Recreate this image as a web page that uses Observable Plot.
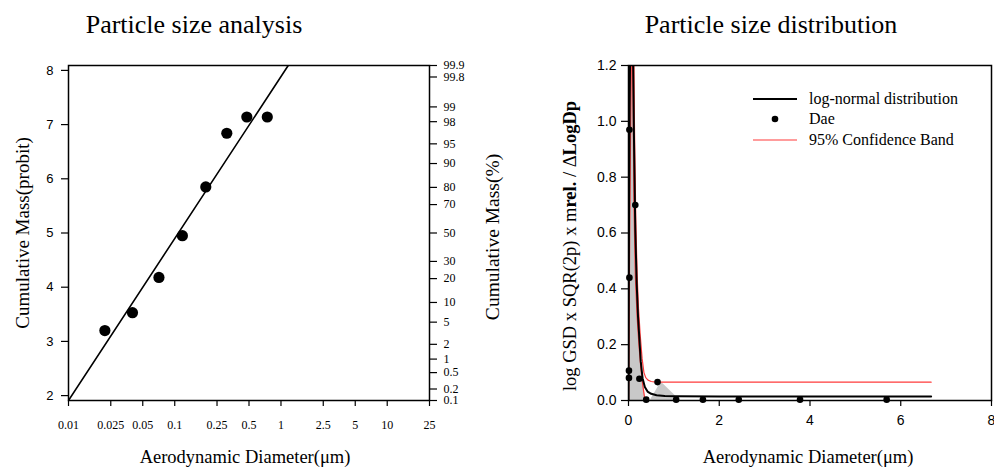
<!DOCTYPE html>
<html><head><meta charset="utf-8">
<script src="https://cdn.jsdelivr.net/npm/d3@7"></script>
<script src="https://cdn.jsdelivr.net/npm/@observablehq/plot@0.6"></script>
<style>
body{margin:0;background:#fff;}
#wrap{position:relative;width:994px;height:472px;overflow:hidden;background:#fff;}
#left,#right{position:absolute;top:0;}
#left{left:0px;} #right{left:500px;}
.leg{position:absolute;display:flex;align-items:center;font-family:"Liberation Serif",serif;font-size:16px;height:20px;white-space:nowrap;color:#000;}
.leg svg{flex:none;}
.leg span{margin-left:12px;}
</style></head><body>
<div id="wrap"><div id="left"></div><div id="right"></div>
<div class="leg" style="left:753px;top:89px"><svg width="44" height="20"><line x1="0" x2="44" y1="10" y2="10" stroke="#000" stroke-width="2"/></svg><span>log-normal distribution</span></div>
<div class="leg" style="left:753px;top:109px"><svg width="44" height="20"><circle cx="22" cy="10" r="3.3" fill="#000"/></svg><span>Dae</span></div>
<div class="leg" style="left:753px;top:130px"><svg width="44" height="20"><line x1="0" x2="44" y1="10" y2="10" stroke="#ff3b3b" stroke-width="1.2"/></svg><span>95% Confidence Band</span></div>
</div>
<script>
// ---- Left chart: Particle size analysis ----
const sizeDiam = [0.022, 0.040, 0.071, 0.118, 0.196, 0.309, 0.477, 0.743];
const sizeProbit = [3.20, 3.53, 4.18, 4.95, 5.85, 6.84, 7.14, 7.14];
const fitDiam = [0.01, 1.17];
const fitProbit = [1.91, 8.09];
const xTickValues = [0.01, 0.025, 0.05, 0.1, 0.25, 0.5, 1, 2.5, 5, 10, 25];
const xTickLabels = ["0.01", "0.025", "0.05", "0.1", "0.25", "0.5", "1", "2.5", "5", "10", "25"];
const probitTicks = [2, 3, 4, 5, 6, 7, 8];
const pctTicks = [0.1, 0.2, 0.5, 1, 2, 5, 10, 20, 30, 50, 70, 80, 90, 95, 98, 99, 99.8, 99.9];
const pctLabels = ["0.1", "0.2", "0.5", "1", "2", "5", "10", "20", "30", "50", "70", "80", "90", "95", "98", "99", "99.8", "99.9"];

// ---- Right chart: Particle size distribution ----
const daeX = [0.02, 0.15, 0.02, 0.01, 0.01, 0.24, 0.64, 0.39, 1.05, 1.64, 2.43, 3.78, 5.69];
const daeY = [0.97, 0.70, 0.44, 0.107, 0.081, 0.078, 0.066, 0.003, 0.003, 0.003, 0.003, 0.003, 0.003];
const logNormX = [0, 0.004, 0.012, 0.025, 0.04, 0.06, 0.08, 0.1, 0.12, 0.15, 0.18, 0.21, 0.24, 0.27, 0.31, 0.36, 0.42, 0.5, 0.62, 0.8, 1.1, 2, 4, 6.67];
const logNormY = [0, 0.3, 0.7, 1.05, 1.3, 1.45, 1.42, 1.25, 0.95, 0.61, 0.42, 0.3, 0.22, 0.14, 0.08, 0.048, 0.032, 0.024, 0.019, 0.016, 0.015, 0.0145, 0.0143, 0.0142];
const bandUpperX = [0, 0.005, 0.015, 0.03, 0.05, 0.08, 0.11, 0.13, 0.16, 0.19, 0.22, 0.26, 0.3, 0.34, 0.38, 0.43, 0.5, 0.6, 0.75, 6.67];
const bandUpperY = [0, 0.35, 0.8, 1.15, 1.45, 1.6, 1.4, 1.0, 0.65, 0.45, 0.33, 0.23, 0.15, 0.1, 0.082, 0.073, 0.068, 0.066, 0.0656, 0.0656];
const bandLowerX = [0, 0.01, 0.025, 0.045, 0.065, 0.085, 0.1, 0.12, 0.15, 0.19, 0.23, 0.27, 0.31, 0.35, 0.38, 0.42];
const bandLowerY = [0, 0.2, 0.55, 0.95, 1.25, 1.3, 1.1, 0.7, 0.45, 0.3, 0.2, 0.12, 0.06, 0.015, -0.01, -0.04];
const shadeX = [0, 0.003, 0.1, 0.17, 0.21, 0.25, 0.29, 0.33, 0.38, 0.48, 0.72, 1.14];
const shadeY = [0, 1.3, 1.3, 0.7, 0.45, 0.27, 0.14, 0.06, 0, 0, 0.066, 0];
const distXTicks = [0, 2, 4, 6, 8];
const distYTicks = [0, 0.2, 0.4, 0.6, 0.8, 1.0, 1.2];

// inverse standard normal (Acklam), returns probit = 5 + z for a percentage
function probit(pct) {
  const q = pct / 100;
  const a = [-3.969683028665376e+01, 2.209460984245205e+02, -2.759285104469687e+02, 1.383577518672690e+02, -3.066479806614716e+01, 2.506628277459239e+00];
  const b = [-5.447609879822406e+01, 1.615858368580409e+02, -1.556989798598866e+02, 6.680131188771972e+01, -1.328068155288572e+01];
  const c = [-7.784894002430293e-03, -3.223964580411365e-01, -2.400758277161838e+00, -2.549732539343734e+00, 4.374664141464968e+00, 2.938163982698783e+00];
  const d = [7.784695709041462e-03, 3.224671290700398e-01, 2.445134137142996e+00, 3.754408661907416e+00];
  const pl = 0.02425, ph = 1 - pl;
  let z;
  if (q < pl) {
    const t = Math.sqrt(-2 * Math.log(q));
    z = (((((c[0]*t+c[1])*t+c[2])*t+c[3])*t+c[4])*t+c[5]) / ((((d[0]*t+d[1])*t+d[2])*t+d[3])*t+1);
  } else if (q <= ph) {
    const t = q - 0.5, r = t * t;
    z = (((((a[0]*r+a[1])*r+a[2])*r+a[3])*r+a[4])*r+a[5])*t / (((((b[0]*r+b[1])*r+b[2])*r+b[3])*r+b[4])*r+1);
  } else {
    const t = Math.sqrt(-2 * Math.log(1 - q));
    z = -(((((c[0]*t+c[1])*t+c[2])*t+c[3])*t+c[4])*t+c[5]) / ((((d[0]*t+d[1])*t+d[2])*t+d[3])*t+1);
  }
  return 5 + z;
}

const pctPos = pctTicks.map(probit);
const pctLabelMap = new Map(pctPos.map((v, i) => [v, pctLabels[i]]));
const xLabelMap = new Map(xTickValues.map((v, i) => [v, xTickLabels[i]]));
const sizePoints = sizeDiam.map((d, i) => ({x: d, y: sizeProbit[i]}));
const fitPoints = fitDiam.map((d, i) => ({x: d, y: fitProbit[i]}));

const SERIF = "Liberation Serif, Times New Roman, serif";
const SANS = "Liberation Sans, Arial, sans-serif";

const left = Plot.plot({
  width: 500, height: 472,
  marginLeft: 68, marginRight: 71, marginTop: 65, marginBottom: 72,
  style: {fontFamily: SERIF, background: "transparent", overflow: "visible", color: "#000"},
  x: {type: "log", domain: [0.01, 25], label: null},
  y: {domain: [probit(0.1), probit(99.9)], label: null},
  marks: [
    Plot.line(fitPoints, {x: "x", y: "y", stroke: "#000", strokeWidth: 1.6, clip: true}),
    Plot.dot(sizePoints, {x: "x", y: "y", r: 5.6, fill: "#000", stroke: "none"}),
    Plot.frame({stroke: "#000", strokeWidth: 1.5}),
    Plot.axisY(probitTicks, {anchor: "left", tickSize: 7, tickPadding: 8, strokeWidth: 1.2, tickFormat: d => String(d), fontFamily: SANS, fontSize: 13, label: null}),
    Plot.axisY(pctPos, {anchor: "right", tickSize: 7, tickPadding: 7, strokeWidth: 1.2, tickFormat: d => pctLabelMap.get(d), fontFamily: SERIF, fontSize: 12, label: null}),
    Plot.axisX(xTickValues, {anchor: "bottom", tickSize: 6, tickPadding: 10, strokeWidth: 1.2, tickFormat: () => "", label: null}),
    Plot.text(xTickValues, {x: d => d, text: d => xLabelMap.get(d), frameAnchor: "bottom", lineAnchor: "middle", textAnchor: "middle", dy: 25, fontSize: 12, fontFamily: SERIF}),
    Plot.text(["Particle size analysis"], {frameAnchor: "top", lineAnchor: "middle", textAnchor: "middle", dx: -55, dy: -41, fontSize: 26, fontFamily: SERIF}),
    Plot.text(["Cumulative Mass(probit)"], {frameAnchor: "left", lineAnchor: "middle", textAnchor: "middle", dx: -46, rotate: -90, fontSize: 19, fontFamily: SERIF}),
    Plot.text(["Cumulative Mass(%)"], {frameAnchor: "right", lineAnchor: "middle", textAnchor: "middle", dx: 63, dy: 4, rotate: -90, fontSize: 19.5, fontFamily: SERIF}),
    Plot.text(["Aerodynamic Diameter(μm)"], {frameAnchor: "bottom", lineAnchor: "middle", textAnchor: "middle", dx: -4, dy: 57, fontSize: 18.5, fontFamily: SERIF})
  ]
});
document.getElementById("left").appendChild(left);

const daePoints = daeX.map((d, i) => ({x: d, y: daeY[i]}));
const logNormPoints = logNormX.map((d, i) => ({x: d, y: logNormY[i]}));
const upperPoints = bandUpperX.map((d, i) => ({x: d, y: bandUpperY[i]}));
const lowerPoints = bandLowerX.map((d, i) => ({x: d, y: bandLowerY[i]}));
const shadePoints = shadeX.map((d, i) => ({x: d, y: shadeY[i]}));

const right = Plot.plot({
  width: 494, height: 472,
  marginLeft: 128, marginRight: 3, marginTop: 65, marginBottom: 72,
  style: {fontFamily: SERIF, background: "transparent", color: "#000"},
  x: {domain: [0, 8], label: null},
  y: {domain: [0, 1.2], label: null},
  marks: [
    Plot.areaY(shadePoints, {x: "x", y: "y", fill: "#c8c8c8", clip: true}),
    Plot.line(upperPoints, {x: "x", y: "y", stroke: "#ff3b3b", strokeWidth: 1.2, clip: true}),
    Plot.line(lowerPoints, {x: "x", y: "y", stroke: "#ff3b3b", strokeWidth: 1.2, clip: true}),
    Plot.line(logNormPoints, {x: "x", y: "y", stroke: "#000", strokeWidth: 2, clip: true}),
    Plot.dot(daePoints, {x: "x", y: "y", r: 3.3, fill: "#000", stroke: "none"}),
    Plot.frame({stroke: "#000", strokeWidth: 1.5}),
    Plot.axisY(distYTicks, {anchor: "left", tickSize: 7, tickPadding: 5, strokeWidth: 1.2, tickFormat: d3.format(".1f"), fontFamily: SANS, fontSize: 14, label: null}),
    Plot.axisX(distXTicks, {anchor: "bottom", tickSize: 6, tickPadding: 9, strokeWidth: 1.2, tickFormat: d => String(d), fontFamily: SANS, fontSize: 14, label: null}),
    Plot.text(["Particle size distribution"], {frameAnchor: "top", lineAnchor: "middle", textAnchor: "middle", dx: -39, dy: -41, fontSize: 26, fontFamily: SERIF}),
    Plot.text(["Aerodynamic Diameter(μm)"], {frameAnchor: "bottom", lineAnchor: "middle", textAnchor: "middle", dx: -2, dy: 57, fontSize: 18.5, fontFamily: SERIF})
  ]
});
document.getElementById("right").appendChild(right);

// rotated y-axis title with mixed weights
const ylab = d3.select(right).append("text")
  .attr("transform", "translate(70,246) rotate(-90)")
  .attr("text-anchor", "middle")
  .attr("dy", "0.32em")
  .attr("font-family", SERIF)
  .attr("font-size", 18.5)
  .attr("fill", "#000");
ylab.append("tspan").text("log GSD x SQR(2p) x m");
ylab.append("tspan").attr("font-weight", "bold").text("rel.");
ylab.append("tspan").text(" / Δ");
ylab.append("tspan").attr("font-weight", "bold").text("LogDp");
</script>
</body></html>
